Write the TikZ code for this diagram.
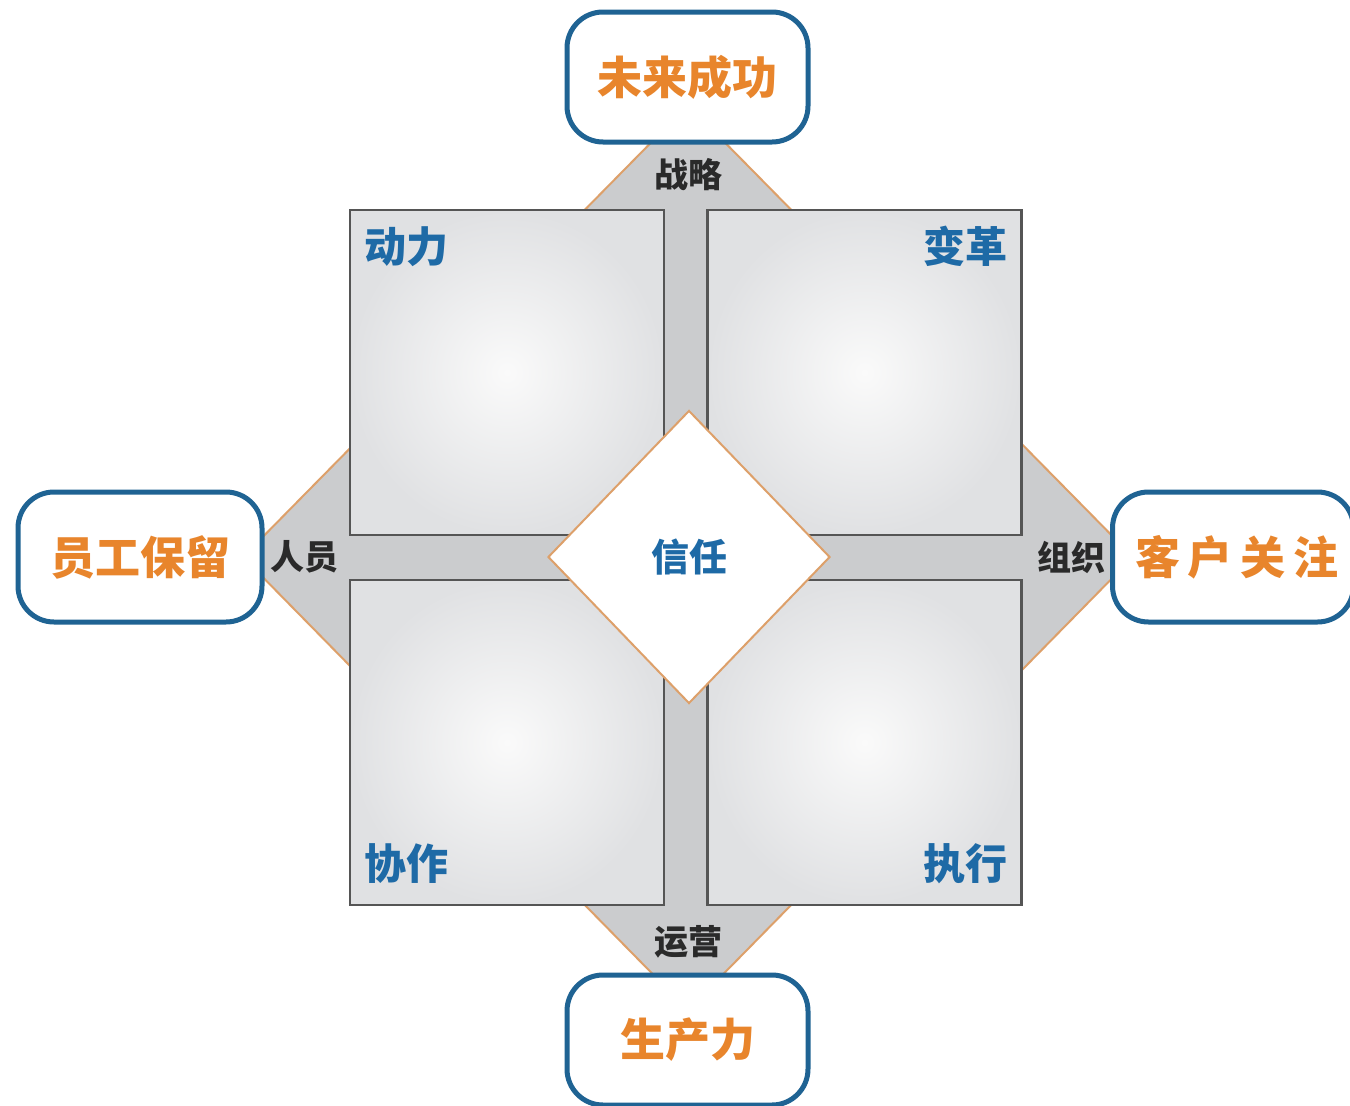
\documentclass[tikz,border=0pt]{standalone}
\usepackage{fontspec}
\newfontfamily\cjk{Noto Sans CJK SC}
\usetikzlibrary{shapes.geometric}
\definecolor{boxblue}{HTML}{1F6393}
\definecolor{txtorange}{HTML}{E8852C}
\definecolor{txtblue}{HTML}{1E6AA6}
\definecolor{chan}{HTML}{CBCCCE}
\definecolor{edgeorange}{HTML}{DDA06A}
\definecolor{quadedge}{HTML}{555555}
\definecolor{quadouter}{HTML}{E0E1E3}
\definecolor{quadinner}{HTML}{FAFAFA}
\definecolor{darktxt}{HTML}{2A2A2A}
\tikzset{
  quad/.style={draw=quadedge, line width=2.5pt, shading=radial, inner color=quadinner, outer color=quadouter, inner sep=0pt, minimum width=314pt, minimum height=325pt},
  qlabel/.style={text=txtblue, font=\cjk\bfseries\fontsize{42}{42}\selectfont, inner sep=0pt},
  goal/.style={draw=boxblue, line width=5pt, fill=white, rounded corners=36pt, inner sep=0pt, text=txtorange, font=\cjk\bfseries\fontsize{45}{45}\selectfont},
  chanlabel/.style={text=darktxt, font=\cjk\bfseries\fontsize{34}{34}\selectfont, inner sep=0pt},
  trustbox/.style={diamond, draw=edgeorange, line width=2pt, fill=white, inner sep=0pt, text=txtblue, font=\cjk\bfseries\fontsize{38}{38}\selectfont}
}
\begin{document}
\begin{tikzpicture}[x=1pt,y=-1pt]
\useasboundingbox (0,0) rectangle (1350,1106);
\fill[white] (0,0) rectangle (1350,1106);
% gray diamond behind
\draw[fill=chan, draw=edgeorange, line width=2pt] (688,105) -- (1133,557) -- (688,1010) -- (243,557) -- cycle;
% quadrants
\node[quad] (q1) at (507,372.5) {};
\node[quad] (q2) at (864.5,372.5) {};
\node[quad] (q3) at (507,742.5) {};
\node[quad] (q4) at (864.5,742.5) {};
\node[qlabel, anchor=north west] (l1) at (364,226) {动力};
\node[qlabel, anchor=north east] (l2) at (1008,226) {变革};
\node[qlabel, anchor=south west] (l3) at (364,884) {协作};
\node[qlabel, anchor=south east] (l4) at (1008,884) {执行};
% center
\node[trustbox, minimum width=282pt, minimum height=293pt] (trust) at (689,557) {信任};
% channel labels
\node[chanlabel] (strat) at (688,175) {战略};
\node[chanlabel] (people) at (304,557) {人员};
\node[chanlabel] (org) at (1071,557) {组织};
\node[chanlabel] (ops) at (688,942) {运营};
% goals
\node[goal, minimum width=241pt, minimum height=130pt] (future) at (687.5,77) {未来成功};
\node[goal, minimum width=244pt, minimum height=130pt] (retain) at (140,557) {员工保留};
\node[goal, minimum width=241pt, minimum height=130pt] (cust) at (1233,557) {\hspace{8pt}客\hspace{8pt}户\hspace{8pt}关\hspace{8pt}注};
\node[goal, minimum width=241pt, minimum height=130pt] (prod) at (687.5,1040) {生产力};
\end{tikzpicture}
\end{document}
